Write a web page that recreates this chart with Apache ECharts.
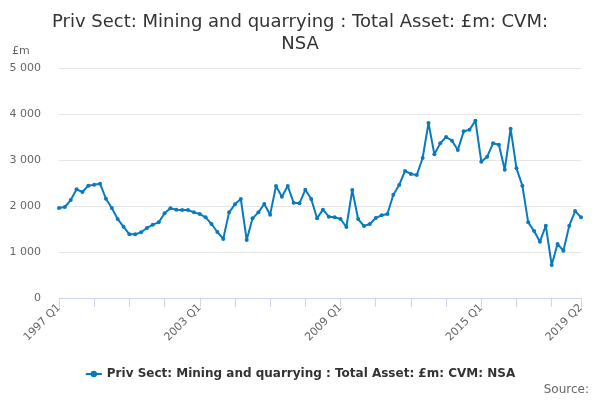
<!DOCTYPE html>
<html>
<head>
<meta charset="utf-8">
<script src="https://cdn.jsdelivr.net/npm/echarts@6/dist/echarts.min.js"></script>
<style>
  html, body { margin: 0; padding: 0; background: #fff; }
  #chart { width: 600px; height: 400px; }
</style>
</head>
<body>
<div id="chart"></div>
<script>
// quarters 1997 Q1 .. 2019 Q2
const categories = []
for (let y = 1997; y <= 2019; y++) {
  for (let q = 1; q <= 4; q++) {
    if (y === 2019 && q > 2) break
    categories.push(y + " Q" + q)
  }
}

const values = [
  1957, 1978, 2130, 2362, 2304, 2442, 2464, 2486,
  2159, 1957, 1717, 1551, 1384, 1384, 1428, 1522,
  1594, 1645, 1841, 1949, 1920, 1913, 1913, 1862,
  1826, 1754, 1609, 1435, 1283, 1862, 2036, 2152,
  1261, 1732, 1862, 2043, 1812, 2435, 2203, 2435,
  2072, 2058, 2355, 2152, 1732, 1920, 1768, 1754,
  1717, 1543, 2348, 1717, 1565, 1609, 1739, 1797,
  1826, 2246, 2457, 2761, 2696, 2674, 3043, 3804,
  3123, 3362, 3500, 3420, 3217, 3623, 3659, 3855,
  2964, 3072, 3362, 3333, 2790, 3681, 2819, 2442,
  1645, 1457, 1225, 1572, 717, 1174, 1029, 1572,
  1891, 1754
]

const seriesName = "Priv Sect: Mining and quarrying : Total Asset: £m: CVM: NSA"
const lastIndex = categories.length - 1

const fontFamily = "DejaVu Sans"

let option = {
  animation: false,
  textStyle: { fontFamily: fontFamily },
  title: {
    text: "Priv Sect: Mining and quarrying : Total Asset: £m: CVM:\nNSA",
    left: "center",
    top: 6,
    textStyle: {
      fontSize: 18,
      fontWeight: "normal",
      color: "#333333",
      lineHeight: 22,
      fontFamily: fontFamily
    }
  },
  grid: {
    left: 59,
    right: 19,
    top: 68,
    bottom: 102
  },
  legend: {
    data: [seriesName],
    bottom: 15,
    left: "center",
    itemWidth: 16,
    itemHeight: 8,
    textStyle: {
      fontSize: 12,
      fontWeight: "bold",
      color: "#333333",
      fontFamily: fontFamily
    }
  },
  graphic: [
    {
      type: "text",
      left: 12,
      top: 46,
      style: { text: "£m", fill: "#666666", font: "11px DejaVu Sans" }
    },
    {
      type: "text",
      right: 11,
      bottom: 4,
      style: { text: "Source:", fill: "#666666", font: "12px DejaVu Sans" }
    }
  ],
  xAxis: {
    type: "category",
    data: categories,
    boundaryGap: false,
    axisLine: {
      lineStyle: { color: "#ccd6eb" }
    },
    axisTick: {
      show: true,
      length: 9,
      interval: (i) => i % 6 === 0 || i === lastIndex,
      lineStyle: { color: "#ccd6eb" }
    },
    axisLabel: {
      rotate: 45,
      fontSize: 11,
      color: "#666666",
      margin: 8,
      interval: (i) => i % 24 === 0 || i === lastIndex
    },
    splitLine: { show: false }
  },
  yAxis: {
    type: "value",
    min: 0,
    max: 5000,
    interval: 1000,
    axisLine: { show: false },
    axisTick: { show: false },
    axisLabel: {
      fontSize: 11,
      color: "#666666",
      margin: 18,
      formatter: (v) => String(v).replace(/\B(?=(\d{3})+(?!\d))/g, " ")
    },
    splitLine: {
      lineStyle: { color: "#e6e6e6" }
    }
  },
  series: [
    {
      name: seriesName,
      type: "line",
      data: values,
      symbol: "circle",
      symbolSize: 4,
      showAllSymbol: true,
      lineStyle: { width: 2, color: "#0a7abf" },
      itemStyle: { color: "#0a7abf" }
    }
  ]
}

let chartEl = echarts.init(document.getElementById("chart"))
chartEl.setOption(option)
</script>
</body>
</html>
